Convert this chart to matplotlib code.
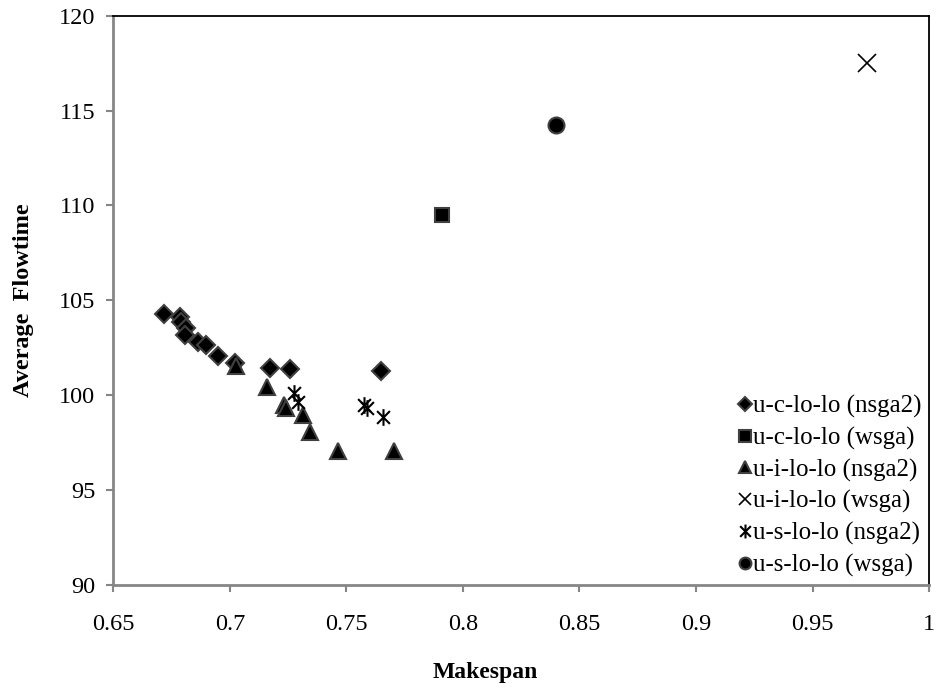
import numpy as np
import matplotlib
matplotlib.use("Agg")
import matplotlib.pyplot as plt
from matplotlib.path import Path
from matplotlib.lines import Line2D

plt.rcParams['font.family'] = ['Liberation Serif', 'DejaVu Serif']

# values
uc_nsga2_x = [0.6718, 0.6786, 0.6789, 0.6812, 0.6809, 0.6865, 0.6898, 0.6947, 0.7022, 0.7173, 0.7258, 0.7648]
uc_nsga2_y = [104.26, 104.13, 103.87, 103.52, 103.17, 102.78, 102.64, 102.08, 101.68, 101.44, 101.38, 101.29]

uc_wsga_x = [0.7912]
uc_wsga_y = [109.49]

ui_nsga2_x = [0.7027, 0.7158, 0.7230, 0.7240, 0.7313, 0.7344, 0.7466, 0.7706]
ui_nsga2_y = [101.53, 100.44, 99.48, 99.30, 98.95, 98.07, 97.07, 97.07]

ui_wsga_x = [0.9733]
ui_wsga_y = [117.5]

us_nsga2_x = [0.7276, 0.7294, 0.7576, 0.7588, 0.7659]
us_nsga2_y = [100.09, 99.65, 99.48, 99.30, 98.83]

us_wsga_x = [0.8401]
us_wsga_y = [114.24]

labels = ['u-c-lo-lo (nsga2)', 'u-c-lo-lo (wsga)', 'u-i-lo-lo (nsga2)',
          'u-i-lo-lo (wsga)', 'u-s-lo-lo (nsga2)', 'u-s-lo-lo (wsga)']

# asterisk marker: an x with a vertical bar through it
star = Path([(-1, -1), (1, 1), (-1, 1), (1, -1), (0, -1.3), (0, 1.3)],
            [Path.MOVETO, Path.LINETO, Path.MOVETO, Path.LINETO, Path.MOVETO, Path.LINETO])

fig = plt.figure(figsize=(9.37, 6.89), dpi=100)
ax = fig.add_axes([0.121, 0.1514, 0.8705, 0.8258])

edge = '#404040'
styles = [
    dict(marker='D', ms=9, mfc='black', mec=edge, mew=1.5),
    dict(marker='s', ms=10.5, mfc='black', mec=edge, mew=1.5),
    dict(marker='^', ms=11, mfc='black', mec=edge, mew=1.5),
    dict(marker='x', ms=13, mec='black', mew=1.2),
    dict(marker=star, ms=12, mec='black', mew=1.5),
    dict(marker='o', ms=11.5, mfc='black', mec=edge, mew=1.5),
]
series = [(uc_nsga2_x, uc_nsga2_y), (uc_wsga_x, uc_wsga_y), (ui_nsga2_x, ui_nsga2_y),
          (ui_wsga_x, ui_wsga_y), (us_nsga2_x, us_nsga2_y), (us_wsga_x, us_wsga_y)]
for (xs, ys), st, lab in zip(series, styles, labels):
    ax.plot(xs, ys, ls='none', label=lab, **st)

ax.set_xlim(0.65, 1.0)
ax.set_ylim(90, 120)
ax.set_xticks(np.arange(0.65, 1.001, 0.05))
ax.set_xticklabels(['0.65', '0.7', '0.75', '0.8', '0.85', '0.9', '0.95', '1'])
ax.set_yticks(np.arange(90, 121, 5))

for s in ['left', 'bottom']:
    ax.spines[s].set_color('#868686')
    ax.spines[s].set_linewidth(2)
for s in ['top', 'right']:
    ax.spines[s].set_color('black')
    ax.spines[s].set_linewidth(1.3)

ax.tick_params(axis='both', direction='out', length=5, width=1.5, color='#868686',
               labelsize=17.5)
ax.tick_params(axis='x', pad=16)
ax.tick_params(axis='y', pad=8)

ax.set_xlabel('Makespan', fontsize=17, fontweight='bold')
ax.xaxis.set_label_coords(0.4557, -0.1358)
ax.set_ylabel('Average  Flowtime', fontsize=17.5, fontweight='bold')
ax.yaxis.set_label_coords(-0.097, 0.5)

# legend markers are drawn a bit smaller than the plotted ones
leg_sizes = [7, 8, 8.5, 8.5, 10, 8.5]
handles = []
for st, sz, lab in zip(styles, leg_sizes, labels):
    st = dict(st)
    st['ms'] = sz
    handles.append(Line2D([], [], ls='none', label=lab, **st))
ax.legend(handles=handles, loc='lower right', bbox_to_anchor=(1.0, 0.0), frameon=False,
          fontsize=18, handletextpad=0.07, handlelength=0.5, labelspacing=0.35,
          borderpad=0.0, borderaxespad=0.3)

fig.savefig('out.png', dpi=100)
